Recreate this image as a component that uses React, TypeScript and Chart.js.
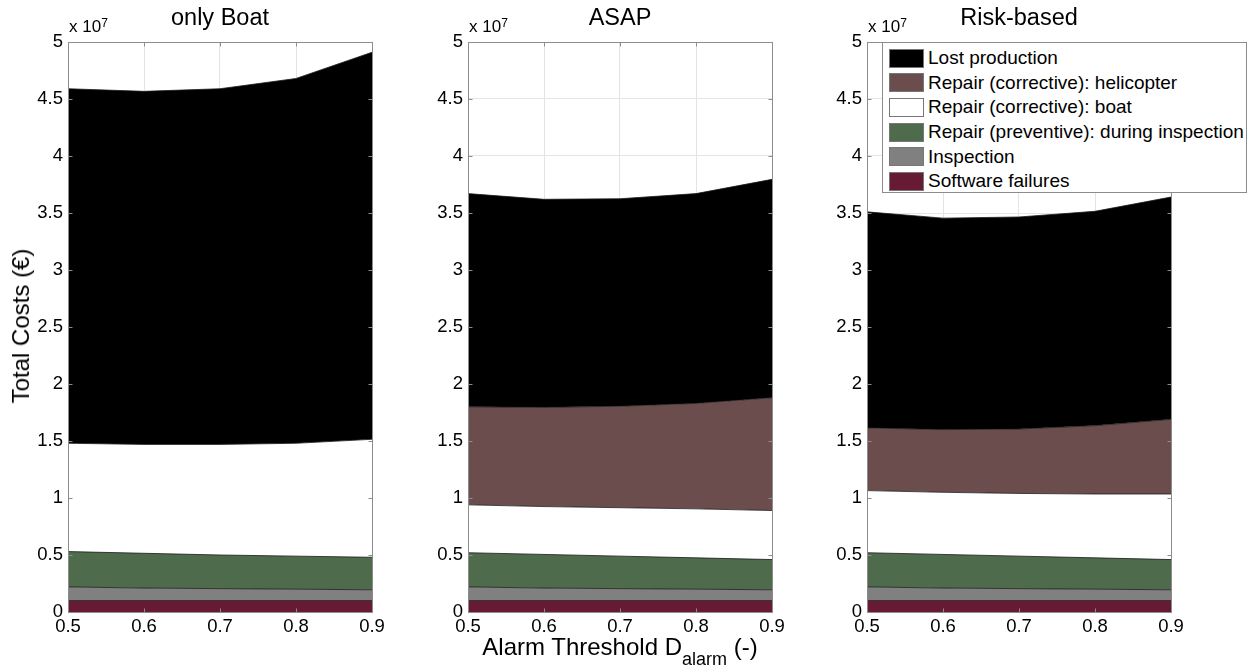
import React, { useEffect, useRef } from "react";
import { Chart, registerables } from "chart.js";

Chart.register(...registerables);

// x values (alarm threshold)
const xValues = [0.5, 0.6, 0.7, 0.8, 0.9];
const xTicks = [0.5, 0.6, 0.7, 0.8, 0.9];
const yTicks = [0, 0.5, 1, 1.5, 2, 2.5, 3, 3.5, 4, 4.5, 5];

// Values in units of 1e7 EUR
// Panel: only Boat
const boatSoftware = [0.1, 0.1, 0.1, 0.1, 0.1];
const boatInspection = [0.12, 0.11, 0.105, 0.1, 0.095];
const boatPreventive = [0.31, 0.305, 0.295, 0.29, 0.285];
const boatBoat = [0.95, 0.955, 0.97, 0.99, 1.035];
const boatHeli = [0, 0, 0, 0, 0];
const boatLost = [3.11, 3.097, 3.12, 3.2, 3.395];

// Panel: ASAP
const asapSoftware = [0.1, 0.1, 0.1, 0.1, 0.1];
const asapInspection = [0.12, 0.11, 0.105, 0.1, 0.095];
const asapPreventive = [0.3, 0.295, 0.285, 0.275, 0.265];
const asapBoat = [0.42, 0.42, 0.425, 0.43, 0.43];
const asapHeli = [0.86, 0.87, 0.89, 0.925, 0.99];
const asapLost = [1.87, 1.825, 1.82, 1.84, 1.915];

// Panel: Risk-based
const riskSoftware = [0.1, 0.1, 0.1, 0.1, 0.1];
const riskInspection = [0.12, 0.11, 0.105, 0.1, 0.095];
const riskPreventive = [0.3, 0.295, 0.285, 0.275, 0.265];
const riskBoat = [0.545, 0.545, 0.55, 0.56, 0.575];
const riskHeli = [0.55, 0.55, 0.565, 0.6, 0.655];
const riskLost = [1.895, 1.855, 1.86, 1.88, 1.95];

const seriesNames = [
  "Software failures",
  "Inspection",
  "Repair (preventive): during inspection",
  "Repair (corrective): boat",
  "Repair (corrective): helicopter",
  "Lost production",
];
const seriesColors = ["#661a33", "#808080", "#4e6b4c", "#ffffff", "#6b4d4d", "#000000"];

const panelTitles = ["only Boat", "ASAP", "Risk-based"];
const panelData = [
  [boatSoftware, boatInspection, boatPreventive, boatBoat, boatHeli, boatLost],
  [asapSoftware, asapInspection, asapPreventive, asapBoat, asapHeli, asapLost],
  [riskSoftware, riskInspection, riskPreventive, riskBoat, riskHeli, riskLost],
];

const FONT = "'Liberation Sans', Arial, sans-serif";
const PLOT_LEFTS = [68, 468, 867];
const PLOT_W = 304;
const YAXIS_W = 60;

const boxPlugin = {
  id: "matlabBox",
  afterDatasetsDraw(chart: any) {
    const { ctx, chartArea, scales } = chart;
    const { left, right, top, bottom } = chartArea;
    ctx.save();
    ctx.strokeStyle = "#8c8c8c";
    ctx.lineWidth = 1;
    ctx.beginPath();
    const L = Math.round(left) + 0.5;
    const R = Math.round(right) + 0.5;
    const T = Math.round(top) + 0.5;
    const B = Math.round(bottom) + 0.5;
    ctx.rect(L, T, R - L, B - T);
    const tl = 4;
    for (const v of yTicks) {
      const y = Math.round(scales.y.getPixelForValue(v)) + 0.5;
      ctx.moveTo(L, y);
      ctx.lineTo(L + tl, y);
      ctx.moveTo(R, y);
      ctx.lineTo(R - tl, y);
    }
    for (const v of xTicks) {
      const x = Math.round(scales.x.getPixelForValue(v)) + 0.5;
      ctx.moveTo(x, B);
      ctx.lineTo(x, B - tl);
      ctx.moveTo(x, T);
      ctx.lineTo(x, T + tl);
    }
    ctx.stroke();
    ctx.restore();
  },
};

function Panel({ index }: { index: number }) {
  const ref = useRef<HTMLCanvasElement | null>(null);
  useEffect(() => {
    if (!ref.current) return;
    const data = panelData[index];
    const datasets = data.map((vals, i) => ({
      label: seriesNames[i],
      data: xValues.map((x, j) => ({ x, y: vals[j] })),
      backgroundColor: seriesColors[i],
      borderColor: "#1a1a1a",
      borderWidth: 0.8,
      pointRadius: 0,
      fill: i === 0 ? "origin" : "-1",
      tension: 0,
    }));
    const chart = new Chart(ref.current, {
      type: "line",
      data: { datasets },
      options: {
        animation: false,
        responsive: false,
        maintainAspectRatio: false,
        layout: { padding: { top: 42, right: 22, bottom: 5, left: 0 } },
        plugins: { legend: { display: false }, tooltip: { enabled: false } },
        scales: {
          x: {
            type: "linear",
            min: 0.5,
            max: 0.9,
            afterFit: (s: any) => {
              s.height = 28;
            },
            afterBuildTicks: (s: any) => {
              s.ticks = xTicks.map((v) => ({ value: v }));
            },
            ticks: {
              padding: 4,
              color: "#000",
              font: { family: FONT, size: 18.5 },
              maxRotation: 0,
              callback: (v: any) => Number(v).toFixed(1),
            },
            grid: { color: "#e4e4e4", drawTicks: false, lineWidth: 1 },
            border: { display: false },
          },
          y: {
            type: "linear",
            stacked: true,
            min: 0,
            max: 5,
            afterFit: (s: any) => {
              s.width = YAXIS_W;
            },
            afterBuildTicks: (s: any) => {
              s.ticks = yTicks.map((v) => ({ value: v }));
            },
            ticks: {
              padding: 5,
              color: "#000",
              font: { family: FONT, size: 18.5 },
              callback: (v: any) => String(v),
            },
            grid: { color: "#e4e4e4", drawTicks: false, lineWidth: 1 },
            border: { display: false },
          },
        },
      },
      plugins: [boxPlugin],
    } as any);
    return () => chart.destroy();
  }, [index]);

  const canvasLeft = PLOT_LEFTS[index] - YAXIS_W;
  const cx = PLOT_LEFTS[index] + PLOT_W / 2;
  return (
    <>
      <canvas
        ref={ref}
        width={YAXIS_W + PLOT_W + 22}
        height={645}
        style={{ position: "absolute", left: canvasLeft, top: 0, width: YAXIS_W + PLOT_W + 22, height: 645 }}
      />
      <div
        style={{
          position: "absolute",
          left: cx - 150,
          width: 300,
          top: 3,
          textAlign: "center",
          fontFamily: FONT,
          fontSize: 23.5,
          lineHeight: "28px",
          color: "#000",
        }}
      >
        {panelTitles[index]}
      </div>
      <div
        style={{
          position: "absolute",
          left: PLOT_LEFTS[index] + 1,
          top: 16,
          fontFamily: FONT,
          fontSize: 17,
          lineHeight: "22px",
          color: "#000",
          whiteSpace: "nowrap",
        }}
      >
        x 10<sup style={{ fontSize: 12, verticalAlign: "top", position: "relative", top: -4 }}>7</sup>
      </div>
    </>
  );
}

function Legend() {
  const order = [5, 4, 3, 2, 1, 0];
  return (
    <div
      style={{
        position: "absolute",
        left: 882,
        top: 42,
        width: 365,
        height: 151,
        boxSizing: "border-box",
        border: "1px solid #8c8c8c",
        background: "#fff",
        fontFamily: FONT,
        fontSize: 19,
        color: "#000",
        paddingTop: 3,
      }}
    >
      {order.map((i) => (
        <div key={i} style={{ display: "flex", alignItems: "center", height: 24.6, marginLeft: 6 }}>
          <div
            style={{
              width: 35,
              height: 19,
              boxSizing: "border-box",
              background: seriesColors[i],
              border: "1px solid #777",
              marginRight: 4,
            }}
          />
          <span style={{ whiteSpace: "nowrap" }}>{seriesNames[i]}</span>
        </div>
      ))}
    </div>
  );
}

export default function App() {
  return (
    <div style={{ position: "absolute", left: 0, top: 0, width: 1250, height: 670, background: "#fff", overflow: "hidden" }}>
      <Panel index={0} />
      <Panel index={1} />
      <Panel index={2} />
      <Legend />
      <div
        style={{
          position: "absolute",
          left: 21,
          top: 326,
          transform: "translate(-50%, -50%) rotate(-90deg)",
          fontFamily: FONT,
          fontSize: 24,
          whiteSpace: "nowrap",
          color: "#000",
        }}
      >
        Total Costs (€)
      </div>
      <div
        style={{
          position: "absolute",
          left: 470,
          width: 300,
          top: 633,
          textAlign: "center",
          fontFamily: FONT,
          fontSize: 24,
          lineHeight: "27px",
          whiteSpace: "nowrap",
          color: "#000",
        }}
      >
        Alarm Threshold D<sub style={{ fontSize: 18, verticalAlign: "baseline", position: "relative", top: 10 }}>alarm</sub> (-)
      </div>
    </div>
  );
}
